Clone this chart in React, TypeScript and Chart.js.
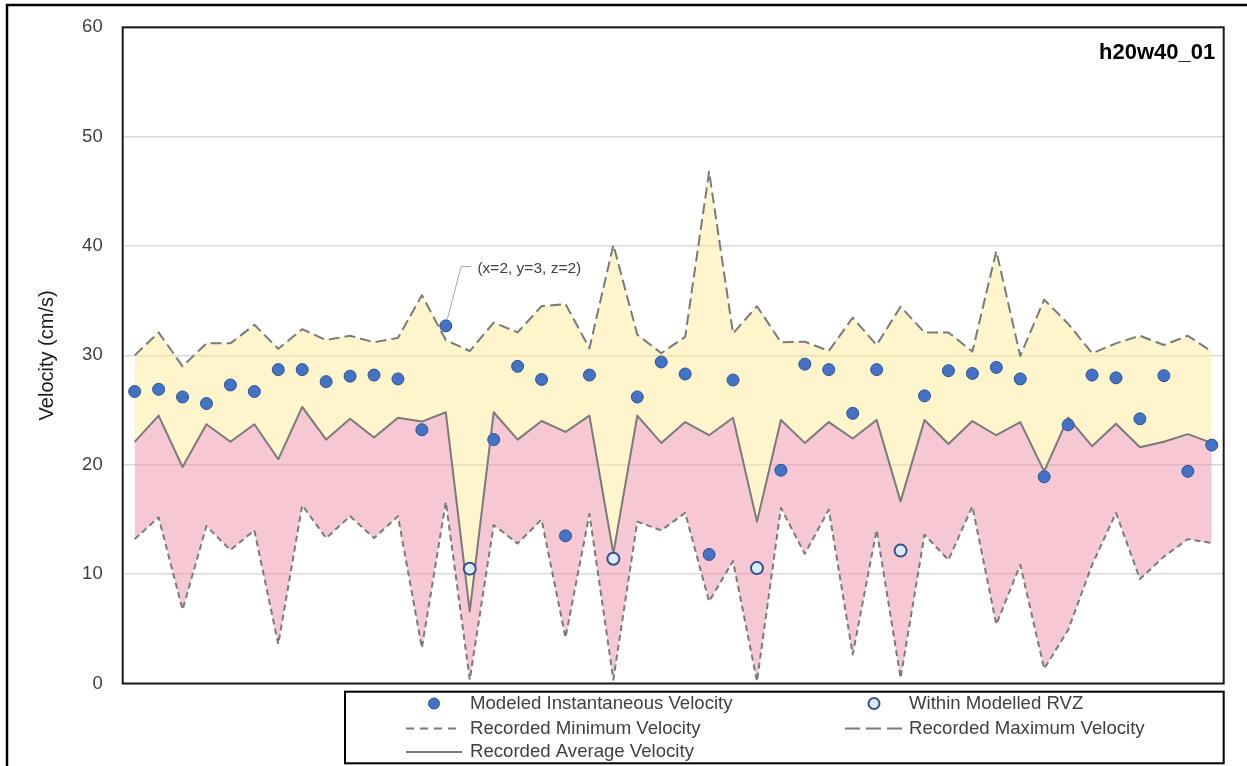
import React, { useEffect, useRef } from "react";
import { Chart, registerables } from "chart.js";

Chart.register(...registerables);

const FONT = '"Liberation Sans", Arial, sans-serif';

const categories = [
  "1", "2", "3", "4", "5", "6", "7", "8", "9", "10",
  "11", "12", "13", "14", "15", "16", "17", "18", "19", "20",
  "21", "22", "23", "24", "25", "26", "27", "28", "29", "30",
  "31", "32", "33", "34", "35", "36", "37", "38", "39", "40",
  "41", "42", "43", "44", "45", "46",
];

const maxVelocity = [
  30.0, 32.1, 29.0, 31.1, 31.1, 32.8, 30.6, 32.4, 31.4, 31.8,
  31.2, 31.6, 35.5, 31.4, 30.4, 33.0, 32.1, 34.5, 34.7, 30.65,
  40.1, 31.9, 30.2, 31.7, 46.8, 32.0, 34.5, 31.2, 31.25, 30.4,
  33.45, 30.95, 34.45, 32.1, 32.1, 30.35, 39.55, 29.95, 35.1, 32.9,
  30.2, 31.1, 31.8, 30.95, 31.8, 30.35,
];

const avgVelocity = [
  22.1, 24.5, 19.8, 23.7, 22.1, 23.7, 20.5, 25.3, 22.3, 24.2,
  22.5, 24.3, 23.95, 24.8, 6.6, 24.8, 22.3, 24.0, 23.0, 24.5,
  11.9, 24.5, 22.0, 23.9, 22.7, 24.3, 14.8, 24.1, 22.0, 23.9,
  22.4, 24.1, 16.65, 24.1, 21.9, 24.0, 22.7, 23.9, 19.4, 24.3,
  21.7, 23.75, 21.6, 22.1, 22.8, 22.0,
];

const minVelocity = [
  13.2, 15.2, 6.75, 14.4, 12.2, 14.0, 3.6, 16.3, 13.3, 15.3,
  13.3, 15.3, 3.25, 16.6, 0.35, 14.5, 12.8, 15.0, 4.2, 15.5,
  0.35, 14.8, 14.0, 15.6, 7.5, 11.2, 0.2, 16.05, 11.85, 15.9,
  2.65, 14.05, 0.5, 13.6, 11.3, 16.2, 5.4, 10.85, 1.35, 4.9,
  10.85, 15.6, 9.55, 11.6, 13.2, 12.85,
];

const modeledVelocity = [
  26.7, 26.9, 26.2, 25.6, 27.3, 26.7, 28.7, 28.7, 27.6, 28.1,
  28.2, 27.85, 23.2, 32.7, null, 22.3, 29.0, 27.8, 13.5, 28.2,
  null, 26.2, 29.4, 28.3, 11.8, 27.75, null, 19.5, 29.2, 28.7,
  24.7, 28.7, null, 26.3, 28.6, 28.35, 28.9, 27.85, 18.9, 23.65,
  28.2, 27.95, 24.2, 28.15, 19.4, 21.8,
];

const withinRVZ = [
  null, null, null, null, null, null, null, null, null, null,
  null, null, null, null, 10.5, null, null, null, null, null,
  11.4, null, null, null, null, null, 10.55, null, null, null,
  null, null, 12.15, null, null, null, null, null, null, null,
  null, null, null, null, null, null,
];

const yTicks = [0, 10, 20, 30, 40, 50, 60];

const chartTitle = "h20w40_01";
const annotationText = "(x=2, y=3, z=2)";
const annotationIndex = 13;

const legendLabels = {
  modeled: "Modeled Instantaneous Velocity",
  within: "Within Modelled RVZ",
  min: "Recorded Minimum Velocity",
  max: "Recorded Maximum Velocity",
  avg: "Recorded Average Velocity",
};

const LINE_GRAY = "#7a7a7a";
const DOT_FILL = "#4472C4";
const DOT_BORDER = "#2F528F";
const LIGHT_FILL = "#DEEBF7";
const YELLOW = "rgba(252, 232, 145, 0.45)";
const PINK = "rgba(235, 145, 168, 0.5)";

const overlayPlugin = {
  id: "overlay",
  afterDraw(chart: any) {
    const { ctx, chartArea: a, scales } = chart;
    const xs = scales.x;
    const ys = scales.y;
    ctx.save();

    // plot area border
    ctx.strokeStyle = "#1a1a1a";
    ctx.lineWidth = 2;
    ctx.setLineDash([]);
    ctx.strokeRect(a.left, a.top, a.right - a.left, a.bottom - a.top);

    // outer chart frame
    ctx.beginPath();
    ctx.moveTo(7, 800);
    ctx.lineTo(7, 5);
    ctx.lineTo(1300, 5);
    ctx.lineWidth = 2.5;
    ctx.strokeStyle = "#000";
    ctx.stroke();

    // title inside plot
    ctx.font = `bold 22px ${FONT}`;
    ctx.fillStyle = "#000";
    ctx.textAlign = "right";
    ctx.textBaseline = "alphabetic";
    ctx.fillText(chartTitle, a.right - 8.5, a.top + 32);

    // annotation leader + label
    const v = modeledVelocity[annotationIndex] as number;
    const px = xs.getPixelForValue(annotationIndex);
    const py = ys.getPixelForValue(v);
    ctx.beginPath();
    ctx.moveTo(px + 1.5, py - 6.5);
    ctx.lineTo(px + 15.3, py - 59.3);
    ctx.lineTo(px + 25.3, py - 59.3);
    ctx.strokeStyle = "#a6a6a6";
    ctx.lineWidth = 1;
    ctx.stroke();
    ctx.font = `15.5px ${FONT}`;
    ctx.fillStyle = "#404040";
    ctx.textAlign = "left";
    ctx.textBaseline = "middle";
    ctx.fillText(annotationText, px + 31.6, py - 57);

    // legend box
    const lx = 345;
    const ly = 691.7;
    const lr = a.right;
    const lb = 763.3;
    ctx.fillStyle = "#fff";
    ctx.fillRect(lx, ly, lr - lx, lb - ly);
    ctx.strokeStyle = "#000";
    ctx.lineWidth = 2;
    ctx.strokeRect(lx, ly, lr - lx, lb - ly);

    const rows = [703.5, 728.5, 752];
    const c1Text = 470;
    const c2Text = 909;

    const drawDot = (cx: number, cy: number, fill: string, bw: number) => {
      ctx.beginPath();
      ctx.arc(cx, cy, 5.5, 0, Math.PI * 2);
      ctx.fillStyle = fill;
      ctx.fill();
      ctx.lineWidth = bw;
      ctx.strokeStyle = DOT_BORDER;
      ctx.setLineDash([]);
      ctx.stroke();
    };
    const drawLine = (x0: number, x1: number, cy: number, dash: number[]) => {
      ctx.beginPath();
      ctx.moveTo(x0, cy);
      ctx.lineTo(x1, cy);
      ctx.lineWidth = 2;
      ctx.strokeStyle = LINE_GRAY;
      ctx.setLineDash(dash);
      ctx.stroke();
      ctx.setLineDash([]);
    };

    drawDot(434, rows[0], DOT_FILL, 1);
    drawDot(874, rows[0], LIGHT_FILL, 2);
    drawLine(406, 460, rows[1], [8, 6]);
    drawLine(845, 907, rows[1], [15, 6]);
    drawLine(406, 462, rows[2], []);

    ctx.font = `18.6px ${FONT}`;
    ctx.fillStyle = "#404040";
    ctx.textAlign = "left";
    ctx.textBaseline = "middle";
    ctx.fillText(legendLabels.modeled, c1Text, rows[0]);
    ctx.fillText(legendLabels.within, c2Text, rows[0]);
    ctx.fillText(legendLabels.min, c1Text, rows[1]);
    ctx.fillText(legendLabels.max, c2Text, rows[1]);
    ctx.fillText(legendLabels.avg, c1Text, rows[2]);

    ctx.restore();
  },
};

export default function App() {
  const canvasRef = useRef<HTMLCanvasElement | null>(null);

  useEffect(() => {
    const canvas = canvasRef.current;
    if (!canvas) return;
    const chart = new Chart(canvas, {
      type: "line",
      data: {
        labels: categories,
        datasets: [
          {
            label: legendLabels.modeled,
            data: modeledVelocity,
            showLine: false,
            pointRadius: 6,
            pointBackgroundColor: DOT_FILL,
            pointBorderColor: DOT_BORDER,
            pointBorderWidth: 1,
            order: 0,
          },
          {
            label: legendLabels.within,
            data: withinRVZ,
            showLine: false,
            pointRadius: 6,
            pointBackgroundColor: LIGHT_FILL,
            pointBorderColor: DOT_BORDER,
            pointBorderWidth: 2,
            order: 1,
          },
          {
            label: legendLabels.max,
            data: maxVelocity,
            borderColor: LINE_GRAY,
            borderWidth: 2,
            borderDash: [11, 5],
            borderJoinStyle: "round",
            pointRadius: 0,
            tension: 0,
            fill: { target: 3, above: YELLOW, below: YELLOW },
            order: 2,
          },
          {
            label: legendLabels.avg,
            data: avgVelocity,
            borderColor: LINE_GRAY,
            borderWidth: 2,
            borderJoinStyle: "round",
            pointRadius: 0,
            tension: 0,
            fill: { target: 4, above: PINK, below: PINK },
            order: 3,
          },
          {
            label: legendLabels.min,
            data: minVelocity,
            borderColor: LINE_GRAY,
            borderWidth: 2,
            borderDash: [6, 4],
            borderJoinStyle: "round",
            pointRadius: 0,
            tension: 0,
            fill: false,
            order: 4,
          },
        ],
      } as any,
      options: {
        responsive: false,
        animation: false,
        events: [],
        layout: { padding: { left: 0, top: 27.3, right: 23.3, bottom: 82.5 } },
        plugins: {
          legend: { display: false },
          tooltip: { enabled: false },
          filler: { drawTime: "beforeDatasetsDraw" },
        } as any,
        scales: {
          x: {
            type: "category",
            display: false,
            offset: true,
          },
          y: {
            min: yTicks[0],
            max: yTicks[yTicks.length - 1],
            afterFit(scale: any) {
              scale.width = 122.7;
              scale.paddingTop = 0;
              scale.paddingBottom = 0;
            },
            afterBuildTicks(scale: any) {
              scale.ticks = yTicks.map((t) => ({ value: t }));
            },
            ticks: {
              padding: 20,
              color: "#404040",
              font: { family: FONT, size: 18.5 },
            },
            grid: { color: "#d9d9d9", lineWidth: 1.5, drawTicks: false },
            border: { display: false },
            title: {
              display: true,
              text: "Velocity (cm/s)",
              color: "#1a1a1a",
              font: { family: FONT, size: 20 },
              padding: { top: 35, bottom: 0 },
            },
          },
        } as any,
      },
      plugins: [overlayPlugin],
    });
    return () => chart.destroy();
  }, []);

  return (
    <div
      style={{
        position: "absolute",
        left: 0,
        top: 0,
        width: 1247,
        height: 766,
        overflow: "hidden",
        background: "#fff",
      }}
    >
      <canvas ref={canvasRef} width={1247} height={766} style={{ display: "block", width: 1247, height: 766 }} />
    </div>
  );
}
